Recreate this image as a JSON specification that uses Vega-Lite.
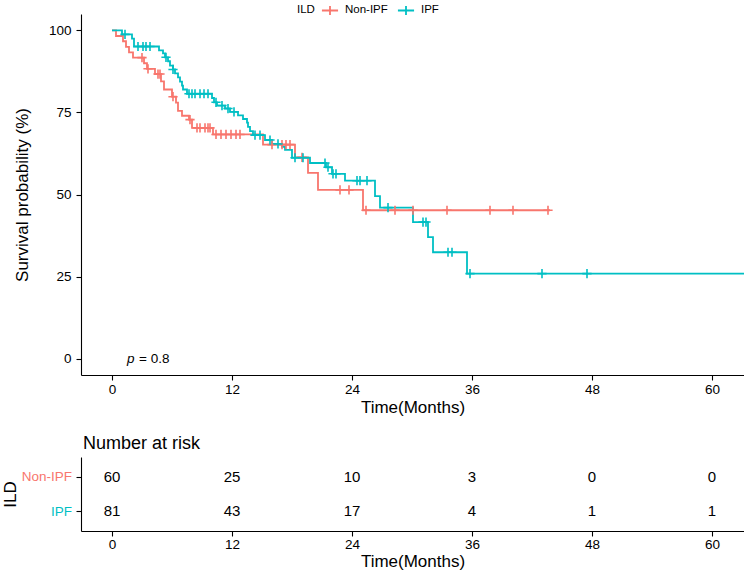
{
  "$schema": "https://vega.github.io/schema/vega-lite/v6.json",
  "padding": {"left": 1, "top": 1, "right": 0, "bottom": 0},
  "background": "white",
  "config": {
    "font": "Liberation Sans",
    "view": {"stroke": null},
    "axis": {"grid": false, "domainColor": "black", "domainWidth": 1.1, "tickColor": "black", "tickSize": 5, "tickWidth": 1.1, "labelColor": "black", "labelFontSize": 13.5, "titleFontSize": 17, "titleFontWeight": "normal", "titleColor": "black", "labelPadding": 3, "titlePadding": 4}
  },
  "datasets": {
    "curve": [
      {"ild": "Non-IPF", "t": 0, "s": 100}, {"ild": "Non-IPF", "t": 0.4, "s": 98.3}, {"ild": "Non-IPF", "t": 1.1, "s": 96.7}, {"ild": "Non-IPF", "t": 1.4, "s": 95},
      {"ild": "Non-IPF", "t": 1.7, "s": 93.3}, {"ild": "Non-IPF", "t": 2.1, "s": 91.7}, {"ild": "Non-IPF", "t": 3.2, "s": 90}, {"ild": "Non-IPF", "t": 3.5, "s": 88.3},
      {"ild": "Non-IPF", "t": 4.3, "s": 86.7}, {"ild": "Non-IPF", "t": 4.9, "s": 84.5}, {"ild": "Non-IPF", "t": 5.2, "s": 82}, {"ild": "Non-IPF", "t": 6.0, "s": 79.8},
      {"ild": "Non-IPF", "t": 6.4, "s": 78}, {"ild": "Non-IPF", "t": 6.6, "s": 75.5}, {"ild": "Non-IPF", "t": 7.0, "s": 74}, {"ild": "Non-IPF", "t": 7.7, "s": 72.8},
      {"ild": "Non-IPF", "t": 8.0, "s": 70.3}, {"ild": "Non-IPF", "t": 10.1, "s": 68.3}, {"ild": "Non-IPF", "t": 15.1, "s": 65.2}, {"ild": "Non-IPF", "t": 18.3, "s": 61.3},
      {"ild": "Non-IPF", "t": 19.6, "s": 56.6}, {"ild": "Non-IPF", "t": 20.6, "s": 51.4}, {"ild": "Non-IPF", "t": 25.1, "s": 45.2}, {"ild": "Non-IPF", "t": 43.8, "s": 45.2},
      {"ild": "IPF", "t": 0, "s": 100}, {"ild": "IPF", "t": 1.0, "s": 98.8}, {"ild": "IPF", "t": 2.0, "s": 97.5}, {"ild": "IPF", "t": 2.2, "s": 95.1},
      {"ild": "IPF", "t": 4.7, "s": 93.9}, {"ild": "IPF", "t": 5.1, "s": 93.0}, {"ild": "IPF", "t": 5.3, "s": 91.8}, {"ild": "IPF", "t": 5.6, "s": 90.6},
      {"ild": "IPF", "t": 5.8, "s": 89.3}, {"ild": "IPF", "t": 6.1, "s": 88.1}, {"ild": "IPF", "t": 6.3, "s": 86.9}, {"ild": "IPF", "t": 6.6, "s": 85.7},
      {"ild": "IPF", "t": 6.8, "s": 84.4}, {"ild": "IPF", "t": 7.0, "s": 83.2}, {"ild": "IPF", "t": 7.1, "s": 82.0}, {"ild": "IPF", "t": 7.5, "s": 80.7},
      {"ild": "IPF", "t": 10.0, "s": 79.4}, {"ild": "IPF", "t": 10.2, "s": 78.1}, {"ild": "IPF", "t": 10.5, "s": 77.1}, {"ild": "IPF", "t": 11.3, "s": 76.2},
      {"ild": "IPF", "t": 11.8, "s": 75.2}, {"ild": "IPF", "t": 12.6, "s": 74.1}, {"ild": "IPF", "t": 13.1, "s": 73.0}, {"ild": "IPF", "t": 13.5, "s": 71.9},
      {"ild": "IPF", "t": 13.6, "s": 70.6}, {"ild": "IPF", "t": 13.8, "s": 69.3}, {"ild": "IPF", "t": 14.1, "s": 68.1}, {"ild": "IPF", "t": 15.3, "s": 66.6},
      {"ild": "IPF", "t": 16.0, "s": 65.4}, {"ild": "IPF", "t": 17.0, "s": 64.5}, {"ild": "IPF", "t": 17.3, "s": 63.6}, {"ild": "IPF", "t": 18.0, "s": 61.2},
      {"ild": "IPF", "t": 19.8, "s": 59.6}, {"ild": "IPF", "t": 21.4, "s": 58.3}, {"ild": "IPF", "t": 22.0, "s": 56.3}, {"ild": "IPF", "t": 23.3, "s": 54.2},
      {"ild": "IPF", "t": 26.3, "s": 49.5}, {"ild": "IPF", "t": 26.8, "s": 46.0}, {"ild": "IPF", "t": 30.1, "s": 41.6}, {"ild": "IPF", "t": 31.6, "s": 37.0},
      {"ild": "IPF", "t": 32.1, "s": 32.4}, {"ild": "IPF", "t": 35.5, "s": 25.9}, {"ild": "IPF", "t": 66, "s": 25.9}
    ],
    "censor": [
      {"ild": "Non-IPF", "t": 3.0, "s": 91.7}, {"ild": "Non-IPF", "t": 3.6, "s": 88.3}, {"ild": "Non-IPF", "t": 4.6, "s": 86.7}, {"ild": "Non-IPF", "t": 4.8, "s": 86.7},
      {"ild": "Non-IPF", "t": 6.1, "s": 79.8}, {"ild": "Non-IPF", "t": 7.8, "s": 72.8}, {"ild": "Non-IPF", "t": 8.5, "s": 70.3}, {"ild": "Non-IPF", "t": 8.8, "s": 70.3},
      {"ild": "Non-IPF", "t": 9.3, "s": 70.3}, {"ild": "Non-IPF", "t": 9.6, "s": 70.3}, {"ild": "Non-IPF", "t": 9.8, "s": 70.3},
      {"ild": "Non-IPF", "t": 10.4, "s": 68.3}, {"ild": "Non-IPF", "t": 10.9, "s": 68.3}, {"ild": "Non-IPF", "t": 11.4, "s": 68.3}, {"ild": "Non-IPF", "t": 11.9, "s": 68.3},
      {"ild": "Non-IPF", "t": 12.4, "s": 68.3}, {"ild": "Non-IPF", "t": 12.8, "s": 68.3},
      {"ild": "Non-IPF", "t": 16.0, "s": 65.2}, {"ild": "Non-IPF", "t": 17.0, "s": 65.2}, {"ild": "Non-IPF", "t": 17.4, "s": 65.2}, {"ild": "Non-IPF", "t": 17.8, "s": 65.2},
      {"ild": "Non-IPF", "t": 19.0, "s": 61.3}, {"ild": "Non-IPF", "t": 22.8, "s": 51.4}, {"ild": "Non-IPF", "t": 23.7, "s": 51.4},
      {"ild": "Non-IPF", "t": 25.4, "s": 45.2}, {"ild": "Non-IPF", "t": 28.3, "s": 45.2}, {"ild": "Non-IPF", "t": 30.1, "s": 45.2}, {"ild": "Non-IPF", "t": 33.5, "s": 45.2},
      {"ild": "Non-IPF", "t": 37.8, "s": 45.2}, {"ild": "Non-IPF", "t": 40.1, "s": 45.2}, {"ild": "Non-IPF", "t": 43.6, "s": 45.2},
      {"ild": "IPF", "t": 1.3, "s": 98.8}, {"ild": "IPF", "t": 2.6, "s": 95.1}, {"ild": "IPF", "t": 3.1, "s": 95.1}, {"ild": "IPF", "t": 3.4, "s": 95.1}, {"ild": "IPF", "t": 3.8, "s": 95.1},
      {"ild": "IPF", "t": 5.4, "s": 91.8}, {"ild": "IPF", "t": 6.1, "s": 88.1},
      {"ild": "IPF", "t": 7.7, "s": 80.7}, {"ild": "IPF", "t": 8.0, "s": 80.7}, {"ild": "IPF", "t": 8.3, "s": 80.7}, {"ild": "IPF", "t": 8.8, "s": 80.7}, {"ild": "IPF", "t": 9.2, "s": 80.7}, {"ild": "IPF", "t": 9.6, "s": 80.7},
      {"ild": "IPF", "t": 10.4, "s": 78.1}, {"ild": "IPF", "t": 11.0, "s": 77.1}, {"ild": "IPF", "t": 11.6, "s": 76.2}, {"ild": "IPF", "t": 12.2, "s": 75.2},
      {"ild": "IPF", "t": 14.3, "s": 68.1}, {"ild": "IPF", "t": 14.8, "s": 68.1}, {"ild": "IPF", "t": 15.8, "s": 66.6}, {"ild": "IPF", "t": 16.6, "s": 65.4},
      {"ild": "IPF", "t": 18.3, "s": 61.2}, {"ild": "IPF", "t": 19.1, "s": 61.2}, {"ild": "IPF", "t": 21.3, "s": 59.6}, {"ild": "IPF", "t": 21.6, "s": 58.3},
      {"ild": "IPF", "t": 22.1, "s": 56.3}, {"ild": "IPF", "t": 22.4, "s": 56.3}, {"ild": "IPF", "t": 24.5, "s": 54.2}, {"ild": "IPF", "t": 24.8, "s": 54.2}, {"ild": "IPF", "t": 25.5, "s": 54.2},
      {"ild": "IPF", "t": 27.6, "s": 46.0}, {"ild": "IPF", "t": 31.1, "s": 41.6}, {"ild": "IPF", "t": 31.4, "s": 41.6}, {"ild": "IPF", "t": 33.6, "s": 32.4}, {"ild": "IPF", "t": 34.0, "s": 32.4},
      {"ild": "IPF", "t": 35.8, "s": 25.9}, {"ild": "IPF", "t": 43.0, "s": 25.9}, {"ild": "IPF", "t": 47.5, "s": 25.9}
    ],
    "risk": [
      {"ild": "Non-IPF", "t": 0, "n": 60}, {"ild": "Non-IPF", "t": 12, "n": 25}, {"ild": "Non-IPF", "t": 24, "n": 10}, {"ild": "Non-IPF", "t": 36, "n": 3}, {"ild": "Non-IPF", "t": 48, "n": 0}, {"ild": "Non-IPF", "t": 60, "n": 0},
      {"ild": "IPF", "t": 0, "n": 81}, {"ild": "IPF", "t": 12, "n": 43}, {"ild": "IPF", "t": 24, "n": 17}, {"ild": "IPF", "t": 36, "n": 4}, {"ild": "IPF", "t": 48, "n": 1}, {"ild": "IPF", "t": 60, "n": 1}
    ],
    "pval": [{"t": 1.5, "s": 0, "p": "p", "val": "= 0.8"}]
  },
  "spacing": 19,
  "vconcat": [
    {
      "width": 663,
      "height": 361,
      "encoding": {
        "x": {"field": "t", "type": "quantitative", "scale": {"domain": [-3.1, 63.2], "nice": false, "zero": false}, "axis": {"values": [0, 12, 24, 36, 48, 60], "title": "Time(Months)", "labelPadding": 2}},
        "y": {"field": "s", "type": "quantitative", "scale": {"domain": [-5, 105], "nice": false, "zero": false}, "axis": {"values": [0, 25, 50, 75, 100], "title": "Survival probability (%)", "labelPadding": 5, "titlePadding": 17}}
      },
      "layer": [
        {
          "data": {"name": "curve"},
          "mark": {"type": "line", "interpolate": "step-after", "strokeWidth": 1.8, "clip": true},
          "encoding": {
            "color": {"field": "ild", "type": "nominal", "scale": {"domain": ["Non-IPF", "IPF"], "range": ["#F8766D", "#00BFC4"]},
              "legend": {"orient": "none", "legendX": 216, "legendY": -13, "direction": "horizontal", "title": "ILD", "titleOrient": "left", "titleFontSize": 11.5, "titleFontWeight": "normal", "titleColor": "black", "titlePadding": 6, "labelFontSize": 11.5, "labelColor": "black", "symbolType": "M-1,0H1M0,-0.55V0.55", "symbolSize": 260, "symbolStrokeWidth": 1.8, "symbolFillColor": "transparent", "columnPadding": 6, "labelOffset": 6}}
          }
        },
        {
          "data": {"name": "censor"},
          "mark": {"type": "point", "shape": "M-1,0H1M0,-1V1", "filled": false, "size": 85, "strokeWidth": 1.6, "opacity": 1, "clip": true},
          "encoding": {
            "color": {"field": "ild", "type": "nominal", "legend": null}
          }
        },
        {
          "data": {"name": "pval"},
          "mark": {"type": "text", "fontStyle": "italic", "align": "left", "baseline": "middle", "fontSize": 13.5, "color": "black"},
          "encoding": {"text": {"field": "p"}}
        },
        {
          "data": {"name": "pval"},
          "mark": {"type": "text", "align": "left", "baseline": "middle", "fontSize": 13.5, "dx": 12, "color": "black"},
          "encoding": {"text": {"field": "val"}}
        }
      ]
    },
    {
      "width": 663,
      "height": 74,
      "title": {"text": "Number at risk", "anchor": "start", "frame": "group", "dx": 2, "fontSize": 18, "fontWeight": "normal", "color": "black", "offset": 4},
      "data": {"name": "risk"},
      "mark": {"type": "text", "fontSize": 15, "color": "black"},
      "encoding": {
        "x": {"field": "t", "type": "quantitative", "scale": {"domain": [-3.1, 63.2], "nice": false, "zero": false}, "axis": {"values": [0, 12, 24, 36, 48, 60], "title": "Time(Months)", "labelPadding": 1, "titlePadding": 3}},
        "y": {"field": "ild", "type": "nominal", "sort": ["Non-IPF", "IPF"], "scale": {"type": "point", "padding": 0.56}, "axis": {"title": "ILD", "titlePadding": 2, "labelFontSize": 13.5, "labelPadding": 4.5, "labelColor": {"condition": {"test": "datum.value === 'IPF'", "value": "#00BFC4"}, "value": "#F8766D"}}},
        "text": {"field": "n", "type": "quantitative"}
      }
    }
  ]
}
